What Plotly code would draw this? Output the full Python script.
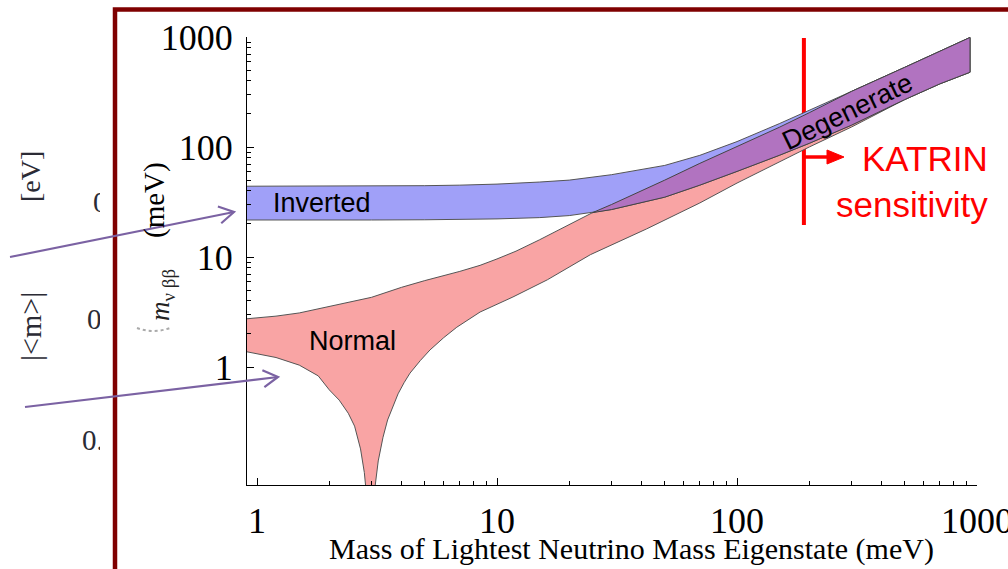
import math
import plotly.graph_objects as go

W, H = 1008, 569

# ---------------- data ----------------
# Inverted hierarchy band (meV)
x_inv = [0.9, 1.2, 1.5, 2, 3, 5, 7, 10, 15, 20, 30, 50, 70, 100, 150, 200, 300, 500, 700, 935]
inv_upper = [44, 44, 44, 44, 44, 44.5, 45, 46, 48, 50, 56, 68, 84, 112, 163, 215, 320, 530, 740, 990]
inv_lower = [21.7, 21.7, 21.7, 21.7, 21.7, 21.8, 21.9, 22.2, 22.8, 23.8, 27, 35, 45, 60, 84, 108, 158, 270, 375, 478]

# Normal hierarchy band (meV)
x_norm_up = [0.9, 1.2, 1.5, 2, 3, 4, 5, 7, 8.5, 10, 12, 15, 20, 25, 30, 50, 70, 100, 150, 200, 300, 500, 700, 935]
norm_upper = [2.74, 2.9, 3.1, 3.55, 4.3, 5.3, 6.1, 7.4, 8.4, 9.6, 11.3, 14.3, 19.7, 25.3, 30, 50, 71, 101, 151, 205, 320, 530, 740, 990]
x_norm_lo = [0.9, 1.2, 1.5, 1.8, 2.0, 2.2, 2.4, 2.55, 2.7, 2.8, 2.9, 2.95, 3.0, 3.1, 3.2, 3.35, 3.5, 3.7,
             3.87, 4.1, 4.34, 4.8, 5.26, 6.0, 6.8, 8.5, 11.65, 16.2, 24.5, 42, 70, 100, 150, 200, 300, 500, 700, 935]
norm_lower = [1.38, 1.22, 1.04, 0.83, 0.62, 0.5, 0.38, 0.29, 0.18, 0.11, 0.05, 0.02, 0.03, 0.08, 0.14, 0.23, 0.33, 0.45,
              0.57, 0.72, 0.88, 1.15, 1.43, 1.85, 2.3, 3.16, 4.33, 6.2, 10.5, 18, 31, 47, 73, 100, 152, 270, 375, 478]

# Degenerate (overlap) band (meV)
x_deg = [25, 30, 50, 70, 100, 150, 200, 300, 500, 700, 935]
deg_upper = [25.3, 30, 50, 71, 101, 151, 205, 320, 530, 740, 990]
deg_lower = [25.3, 27, 35, 45, 60, 84, 108, 158, 270, 375, 478]

# KATRIN sensitivity marker
katrin_x = [190, 190]
katrin_y = [19.5, 980]

# axis ticks
x_ticks = [1, 10, 100, 1000]
y_ticks = [1, 10, 100, 1000]
x_tick_text = ["1", "10", "100", "1000"]
y_tick_text = ["1", "10", "100", "1000"]
x_minor = [k * 10 ** e for e in range(0, 3) for k in range(2, 10)]
y_minor = [k * 10 ** e for e in range(0, 3) for k in range(2, 10)]

# background (partially hidden) slide labels
bg_x = [93, 87, 82]
bg_y = [205, 322, 443]
bg_text = ["0.1", "0.01", "0.001"]

# ---------------- helpers ----------------
def P(x, y):
    return x / W, 1 - y / H


def poly(xu, yu, xl, yl):
    return list(xu) + list(reversed(xl)), list(yu) + list(reversed(yl))


SERIF = "Liberation Serif, Times New Roman, serif"
SANS = "Liberation Sans, Arial, sans-serif"

fig = go.Figure()

# KATRIN line (under the bands)
fig.add_trace(go.Scatter(x=katrin_x, y=katrin_y, mode="lines",
                         line=dict(color="#ff0000", width=4), showlegend=False, hoverinfo="skip"))

# Normal band
px_, py_ = poly(x_norm_up, norm_upper, x_norm_lo, norm_lower)
fig.add_trace(go.Scatter(x=px_, y=py_, mode="lines", fill="toself", fillcolor="#f9a4a4",
                         line=dict(color="#555555", width=1),
                         showlegend=False, hoverinfo="skip"))
# Inverted band
px_, py_ = poly(x_inv, inv_upper, x_inv, inv_lower)
fig.add_trace(go.Scatter(x=px_, y=py_, mode="lines", fill="toself", fillcolor="#a0a0f8",
                         line=dict(color="#555555", width=1), showlegend=False, hoverinfo="skip"))
# Degenerate band
px_, py_ = poly(x_deg, deg_upper, x_deg, deg_lower)
fig.add_trace(go.Scatter(x=px_, y=py_, mode="lines", fill="toself", fillcolor="#b173c0",
                         line=dict(color="#444444", width=1), showlegend=False, hoverinfo="skip"))

# background slide tick labels, clipped at the overlay edge
fig.add_trace(go.Scatter(x=bg_x, y=bg_y, text=bg_text, mode="text", textposition="middle right",
                         textfont=dict(family=SERIF, size=29, color="#2b2b35"),
                         xaxis="x2", yaxis="y2", cliponaxis=True, showlegend=False, hoverinfo="skip"))

axis_common = dict(type="log", showline=True, linecolor="black", linewidth=1, mirror=False,
                   ticks="inside", ticklen=7, tickcolor="black", showgrid=False, zeroline=False,
                   automargin=False, ticklabeloverflow="allow",
                   tickmode="array", tickfont=dict(family=SERIF, size=36, color="black"))

fig.update_layout(
    template="none",
    width=W, height=H,
    margin=dict(l=0, r=0, t=0, b=0, pad=0, autoexpand=False),
    paper_bgcolor="white", plot_bgcolor="white",
    showlegend=False,
    xaxis=dict(axis_common, domain=[247 / W, 977 / W], range=[-0.0417, 3.0],
               tickvals=x_ticks, ticktext=x_tick_text, ticklabelstandoff=4,
               minor=dict(ticks="inside", ticklen=4, tickcolor="black", tickmode="array",
                          tickvals=x_minor, showgrid=False)),
    yaxis=dict(axis_common, domain=[1 - 485 / H, 1 - 37 / H], range=[-1.0727, 3.0],
               tickvals=y_ticks, ticktext=y_tick_text, ticklabelstandoff=6,
               minor=dict(ticks="inside", ticklen=4, tickcolor="black", tickmode="array",
                          tickvals=y_minor, showgrid=False)),
    xaxis2=dict(domain=[0, 100 / W], range=[0, 100], visible=False, anchor="y2", automargin=False),
    yaxis2=dict(domain=[0, 1], range=[H, 0], visible=False, anchor="x2", automargin=False),
)

shapes = []
# dark red slide frame
x0, y0 = P(115, 9.5)
shapes.append(dict(type="rect", xref="paper", yref="paper", x0=x0, y0=y0, x1=1.05, y1=-0.05,
                   line=dict(color="#7f0000", width=4.5), fillcolor="rgba(0,0,0,0)", layer="above"))


def arrow(tail, tip, color, width, head_len=17, half_angle=30):
    (xa, ya), (xb, yb) = tail, tip
    dx, dy = xb - xa, yb - ya
    L = math.hypot(dx, dy)
    ux, uy = dx / L, dy / L
    nx, ny = -uy, ux
    back = head_len * math.cos(math.radians(half_angle))
    side = head_len * math.sin(math.radians(half_angle))
    a = (xb - back * ux + side * nx, yb - back * uy + side * ny)
    b = (xb - back * ux - side * nx, yb - back * uy - side * ny)
    p0, p1 = P(*tail), P(*tip)
    out = [dict(type="line", xref="paper", yref="paper", x0=p0[0], y0=p0[1], x1=p1[0], y1=p1[1],
                line=dict(color=color, width=width), layer="above")]
    pa, pt, pb = P(*a), P(*tip), P(*b)
    out.append(dict(type="path", xref="paper", yref="paper",
                    path=f"M {pa[0]},{pa[1]} L {pt[0]},{pt[1]} L {pb[0]},{pb[1]}",
                    line=dict(color=color, width=width), layer="above"))
    return out


shapes += arrow((10, 257), (234, 212), "#7b62a3", 2.2)
shapes += arrow((25, 407), (278, 377), "#7b62a3", 2.2)

# KATRIN arrow
s0, s1 = P(805, 157), P(830, 157)
shapes.append(dict(type="line", xref="paper", yref="paper", x0=s0[0], y0=s0[1], x1=s1[0], y1=s1[1],
                   line=dict(color="#ff0000", width=3.5)))
t1, t2, t3 = P(827, 150), P(844, 157), P(827, 164)
shapes.append(dict(type="path", xref="paper", yref="paper",
                   path=f"M {t1[0]},{t1[1]} L {t2[0]},{t2[1]} L {t3[0]},{t3[1]} Z",
                   fillcolor="#ff0000", line=dict(color="#ff0000", width=1)))

# dotted arc under the y label
d1, d2, d3 = P(137, 328), P(153, 334), P(170, 328)
shapes.append(dict(type="path", xref="paper", yref="paper",
                   path=f"M {d1[0]},{d1[1]} Q {d2[0]},{d2[1]} {d3[0]},{d3[1]}",
                   line=dict(color="#aaaaaa", width=2, dash="dot")))
fig.update_layout(shapes=shapes)

ann = []


def text(x, y, s, size, color="black", family=SANS, angle=0, **kw):
    px, py = P(x, y)
    d = dict(xref="paper", yref="paper", x=px, y=py, text=s, showarrow=False,
             font=dict(family=family, size=size, color=color), textangle=angle,
             xanchor="center", yanchor="middle")
    d.update(kw)
    ann.append(d)


text(322, 203, "Inverted", 27)
text(352, 341, "Normal", 27)
text(847, 112, "Degenerate", 27, angle=-26)
text(990, 181, "KATRIN<br>sensitivity", 35, color="#ff0000", xanchor="right", align="right")
text(631, 549, "Mass of Lightest Neutrino Mass Eigenstate (meV)", 30, family=SERIF)
text(154, 200, "(meV)", 29, family=SERIF, angle=-90)
text(162, 295, "<i>m</i><sub>ν ββ</sub>", 27, family=SERIF, angle=-90, color="#222222")
text(30, 177, "[eV]", 28, family=SERIF, angle=-90, color="#2b2b35")
text(30, 327, "|&lt;m&gt;|", 30, family=SERIF, angle=-90, color="#2b2b35")
fig.update_layout(annotations=ann)

fig.write_html("out.html")
